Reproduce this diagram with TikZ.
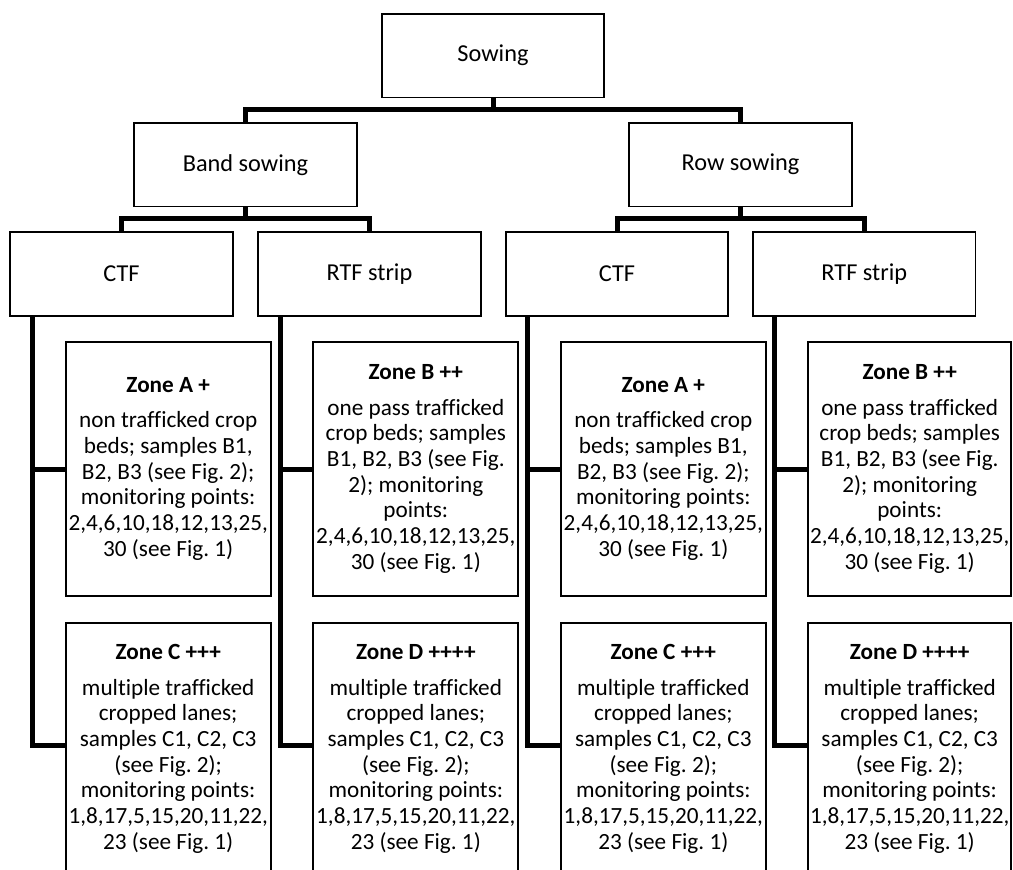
\documentclass[tikz,border=0pt]{standalone}
\usepackage{fontspec}
\setmainfont{Carlito}[Ligatures=NoCommon]
\frenchspacing
\begin{document}
\begin{tikzpicture}[x=1pt,y=1pt,
  box/.style={draw=black, line width=1.8pt, fill=white, inner sep=0pt, align=center},
  topbox/.style={box, minimum width=222.4pt, minimum height=83.6pt, font=\fontsize{24.3}{28}\selectfont},
  zonebox/.style={box, minimum width=205pt, minimum height=253.4pt, font=\fontsize{23.2}{25.7}\selectfont},
  conn/.style={draw=black, line width=5pt, line join=miter}
]
\useasboundingbox[fill=white] (0,0) rectangle (1013,-870);

% level nodes
\node[topbox] (sow)  at (493,-55.7) {Sowing};
\node[topbox] (band) at (245.5,-164.7) {Band sowing};
\node[topbox] (row)  at (740.5,-164.7) {Row sowing};
\node[topbox] (ctf1) at (121.5,-274) {CTF};
\node[topbox] (rtf1) at (369.5,-274) {RTF strip};
\node[topbox] (ctf2) at (617,-274) {CTF};
\node[topbox] (rtf2) at (864.3,-274) {RTF strip};

% zone texts
\newcommand{\zoneA}{\textbf{Zone A +}\\[9.5pt]non trafficked crop\\beds; samples B1,\\B2, B3 (see Fig. 2);\\monitoring points:\\2,4,6,10,18,12,13,25,\\30 (see Fig. 1)}
\newcommand{\zoneB}{\textbf{Zone B ++}\\[9.5pt]one pass trafficked\\crop beds; samples\\B1, B2, B3 (see Fig.\\2); monitoring\\points:\\2,4,6,10,18,12,13,25,\\30 (see Fig. 1)}
\newcommand{\zoneCD}[1]{\textbf{#1}\\[9.5pt]multiple trafficked\\cropped lanes;\\samples C1, C2, C3\\(see Fig. 2);\\monitoring points:\\1,8,17,5,15,20,11,22,\\23 (see Fig. 1)}

\node[zonebox] (za1) at (168.2,-469) {\zoneA};
\node[zonebox] (zb1) at (415.8,-469) {\zoneB};
\node[zonebox] (za2) at (663.3,-469) {\zoneA};
\node[zonebox, minimum width=203pt] (zb2) at (909.7,-469) {\zoneB};

\node[zonebox, minimum height=252.6pt] (zc1) at (168.2,-749) {\zoneCD{Zone C +++}};
\node[zonebox, minimum height=252.6pt] (zd1) at (415.8,-749) {\zoneCD{Zone D ++++}};
\node[zonebox, minimum height=252.6pt] (zc2) at (663.3,-749) {\zoneCD{Zone C +++}};
\node[zonebox, minimum height=252.6pt, minimum width=203pt] (zd2) at (909.7,-749) {\zoneCD{Zone D ++++}};

% tree connectors
\draw[conn] (sow.south) -- ++(0,-13);
\draw[conn] (band.north) -- ++(0,12.6) -| (row.north);
\draw[conn] (band.south) -- ++(0,-12.6);
\draw[conn] (ctf1.north) -- ++(0,13) -| (rtf1.north);
\draw[conn] (row.south) -- ++(0,-12.6);
\draw[conn] (ctf2.north) -- ++(0,13) -| (rtf2.north);

% zone connectors
\foreach \p/\a/\c in {ctf1/za1/zc1, rtf1/zb1/zd1, ctf2/za2/zc2, rtf2/zb2/zd2}{
  \draw[conn] ([xshift=22.7pt]\p.south west) -- ([xshift=22.7pt]\p.south west |- 0,-745) -- (\c.west |- 0,-745);
  \draw[conn] ([xshift=22.7pt]\p.south west |- \a.west) -- (\a.west);
}
\end{tikzpicture}
\end{document}
